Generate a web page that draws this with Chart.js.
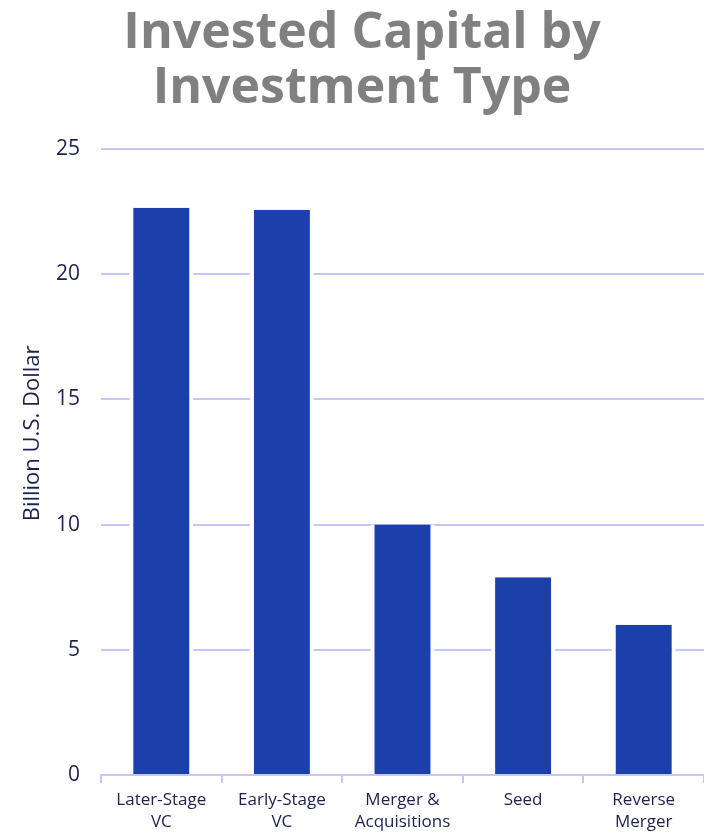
<!DOCTYPE html>
<html>
<head>
<meta charset="utf-8">
<script src="https://cdn.jsdelivr.net/npm/chart.js@4"></script>
<style>
  html, body { margin: 0; padding: 0; background: #fff; }
  #wrap { width: 704px; height: 833px; }
</style>
</head>
<body>
<div id="wrap"><canvas id="chart"></canvas></div>
<script>
const categories = [['Later-Stage', 'VC'], ['Early-Stage', 'VC'], ['Merger &', 'Acquisitions'], 'Seed', ['Reverse', 'Merger']];
const capital = [22.65, 22.57, 10, 7.9, 6];
const yTicks = [0, 5, 10, 15, 20, 25];

const navy = '#1c2150';
const lavender = '#c5c8f6';

new Chart(document.getElementById('chart'), {
    type: 'bar',
    data: {
        labels: categories,
        datasets: [{
            label: 'Invested Capital',
            data: capital,
            backgroundColor: '#1b40a9',
            borderColor: '#ffffff',
            borderWidth: { left: 4, right: 4, top: 0, bottom: 0 },
            barPercentage: 0.53,
            categoryPercentage: 1
        }]
    },
    options: {
        responsive: true,
        maintainAspectRatio: false,
        animation: false,
        layout: { padding: { left: 20, right: 0, top: 6, bottom: 0 } },
        plugins: {
            legend: { display: false },
            tooltip: { enabled: false },
            title: {
                display: true,
                text: ['Invested Capital by', 'Investment Type'],
                color: '#808080',
                font: { family: 'Open Sans', size: 50, weight: 'bold', lineHeight: 1.1 },
                padding: { top: 0, bottom: 33 }
            }
        },
        scales: {
            x: {
                grid: { drawOnChartArea: false, drawTicks: true, tickLength: 8, color: lavender, lineWidth: 2, offset: true },
                border: { color: lavender, width: 2 },
                ticks: { color: navy, font: { family: 'Open Sans', size: 17, lineHeight: 1.3 }, maxRotation: 0, padding: 6 },
                afterFit: axis => { axis.height = 58; }
            },
            y: {
                min: 0,
                max: 25,
                afterBuildTicks: axis => { axis.ticks = yTicks.map(v => ({ value: v })); },
                afterFit: axis => { axis.width = 81; },
                grid: { color: lavender, lineWidth: 2, drawTicks: false },
                border: { display: false },
                ticks: { color: navy, font: { family: 'Open Sans', size: 21 }, padding: 21 },
                title: {
                    display: true,
                    // leading spaces nudge the label up a little, as in the original
                    text: '          Billion U.S. Dollar',
                    color: navy,
                    font: { family: 'Open Sans', size: 22 },
                    padding: { top: 0, bottom: 0 }
                }
            }
        }
    }
});
</script>
</body>
</html>
